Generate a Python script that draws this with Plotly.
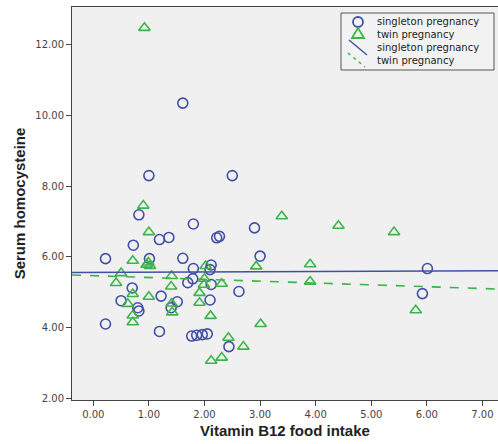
import numpy as np
import plotly.graph_objects as go

# Vitamin B12 food intake (x) vs serum homocysteine (y)
single_x = [1.61, 1.00, 2.50, 0.82, 1.80, 2.90, 1.19, 1.36, 2.22, 2.27,
            0.72, 0.22, 1.01, 1.61, 3.00, 2.12, 1.80, 2.10, 1.79, 1.70,
            2.12, 0.70, 2.62, 1.22, 0.50, 1.51, 2.10, 0.80, 0.82, 1.40,
            0.22, 1.19, 1.77, 1.86, 1.96, 2.05, 2.44, 6.01, 5.92]
single_y = [10.35, 8.30, 8.30, 7.19, 6.93, 6.82, 6.49, 6.55, 6.54, 6.58,
            6.33, 5.95, 5.95, 5.96, 6.02, 5.77, 5.67, 5.64, 5.38, 5.27,
            5.22, 5.12, 5.02, 4.89, 4.76, 4.73, 4.78, 4.56, 4.47, 4.56,
            4.10, 3.89, 3.76, 3.78, 3.80, 3.82, 3.46, 5.67, 4.96]

twin_x = [0.92, 0.90, 3.39, 4.41, 5.41, 1.00, 0.71, 0.96, 0.99, 1.02,
          0.50, 0.41, 1.41, 1.40, 0.71, 1.00, 0.62, 0.71, 0.71, 1.41,
          1.42, 2.02, 2.00, 1.99, 1.91, 1.91, 2.31, 2.11, 2.93, 3.01,
          2.43, 2.70, 2.12, 2.31, 3.90, 3.90, 5.80]
twin_y = [12.48, 7.45, 7.15, 6.88, 6.70, 6.70, 5.89, 5.78, 5.84, 5.74,
          5.54, 5.26, 5.46, 5.16, 4.95, 4.87, 4.67, 4.34, 4.15, 4.68,
          4.43, 5.74, 5.38, 5.21, 4.98, 4.70, 5.24, 4.33, 5.73, 4.10,
          3.71, 3.46, 3.06, 3.15, 5.79, 5.30, 4.49]

x_range = [-0.383, 7.28]
y_range = [1.95, 13.07]
x_ticks = [0, 1, 2, 3, 4, 5, 6, 7]
y_ticks = [2, 4, 6, 8, 10, 12]

legend_labels = ["singleton pregnancy", "twin pregnancy",
                 "singleton pregnancy", "twin pregnancy"]
blue = "#4150A6"
green = "#3BB54A"

# figure / plot-area geometry in pixels
W, H = 498, 444
ML, MR, MT, MB = 72, 0, 7, 44
PW, PH = W - ML - MR, H - MT - MB


def px(x):
    return (x - ML) / PW


def py(y):
    return (H - MB - y) / PH


fig = go.Figure()

fig.add_trace(go.Scatter(
    x=single_x, y=single_y, mode="markers", name=legend_labels[0],
    marker=dict(symbol="circle-open", size=10, color=blue, line=dict(width=1.6, color=blue)),
))
fig.add_trace(go.Scatter(
    x=twin_x, y=twin_y, mode="markers", name=legend_labels[1],
    marker=dict(symbol="triangle-up-open", size=10, color=green, line=dict(width=1.6, color=green)),
))

# least-squares fit lines per group, spanning the full x axis
fit_x = np.array(x_range)
for xs, ys, name, col, dash in [(single_x, single_y, legend_labels[2], blue, "solid"),
                                (twin_x, twin_y, legend_labels[3], green, "dash")]:
    slope, icpt = np.polyfit(xs, ys, 1)
    fig.add_trace(go.Scatter(
        x=fit_x, y=icpt + slope * fit_x, mode="lines", name=name,
        line=dict(color=col, width=1.6, dash=dash),
    ))

# compact boxed legend with diagonal line keys
box = dict(x0=341, x1=494, y0=13, y1=70)
shapes = [dict(type="rect", xref="paper", yref="paper",
               x0=px(box["x0"]), x1=px(box["x1"]), y0=py(box["y1"]), y1=py(box["y0"]),
               line=dict(color="#555555", width=1), fillcolor="#F2F2F2", layer="above")]
gx, rows = 358, [22, 34, 47, 60]
shapes.append(dict(type="circle", xref="paper", yref="paper",
                   x0=px(gx - 5), x1=px(gx + 5), y0=py(rows[0] + 5), y1=py(rows[0] - 5),
                   line=dict(color=blue, width=1.8), layer="above"))
shapes.append(dict(type="path", xref="paper", yref="paper",
                   path=f"M {px(gx - 6)} {py(rows[1] + 4)} L {px(gx + 6)} {py(rows[1] + 4)} "
                        f"L {px(gx)} {py(rows[1] - 6)} Z",
                   line=dict(color=green, width=1.8), layer="above"))
shapes.append(dict(type="line", xref="paper", yref="paper",
                   x0=px(349), x1=px(367), y0=py(40), y1=py(55),
                   line=dict(color=blue, width=1.4), layer="above"))
shapes.append(dict(type="line", xref="paper", yref="paper",
                   x0=px(348), x1=px(365), y0=py(53), y1=py(67),
                   line=dict(color=green, width=1.4, dash="3px,4px"), layer="above"))
annotations = [dict(x=px(375), y=py(r), xref="paper", yref="paper", text=t,
                    showarrow=False, xanchor="left", yanchor="middle",
                    font=dict(family="DejaVu Sans", size=10, color="#222222"))
               for t, r in zip(legend_labels, rows)]

axis_common = dict(
    showgrid=False, zeroline=False, showline=True, linecolor="#444444", linewidth=1,
    ticks="outside", ticklen=5, tickcolor="#444444",
    tickfont=dict(family="DejaVu Sans", size=10, color="#444444"),
    tickformat=".2f",
)

fig.update_layout(
    width=W, height=H,
    margin=dict(l=ML, r=MR, t=MT, b=MB),
    paper_bgcolor="white", plot_bgcolor="#F0F0F0",
    xaxis=dict(range=x_range, tickvals=x_ticks, mirror=True,
               title=dict(text="Vitamin B12 food intake", standoff=6,
                          font=dict(family="Liberation Sans", size=15, color="#222222", weight="bold")),
               **axis_common),
    yaxis=dict(range=y_range, tickvals=y_ticks,
               title=dict(text="Serum homocysteine", standoff=6,
                          font=dict(family="Liberation Sans", size=15, color="#222222", weight="bold")),
               **axis_common),
    shapes=shapes,
    annotations=annotations,
    showlegend=False,
)

fig.write_html("out.html")
